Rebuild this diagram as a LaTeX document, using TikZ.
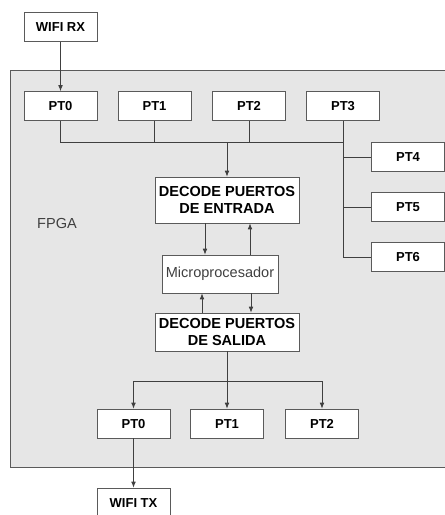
\documentclass[tikz,border=0pt]{standalone}
\usepackage{fontspec}
\setmainfont{Liberation Sans}
\usetikzlibrary{arrows.meta}
\definecolor{bgc}{HTML}{E6E6E6}
\definecolor{edgec}{HTML}{5A5A5A}
\definecolor{linec}{HTML}{404040}
\definecolor{txtc}{HTML}{404040}
\tikzset{
  ptbox/.style={draw=edgec, fill=white, inner sep=0pt, minimum width=54.75pt, minimum height=21.75pt, text height=7pt, text depth=0pt, font=\fontsize{9.75}{11.7}\selectfont\bfseries},
  decbox/.style={draw=edgec, fill=white, inner sep=0pt, minimum width=108pt, align=center, font=\fontsize{10.9}{12.5}\selectfont\bfseries},
  conn/.style={draw=linec, line width=0.6pt},
  arr/.style={conn, -{Latex[length=4.5pt,width=3.5pt]}}
}
\begin{document}
\begin{tikzpicture}[x=0.75pt,y=-0.75pt]
\useasboundingbox (0,0) rectangle (445,515);
\clip (0,0) rectangle (445,515);
% FPGA region
\path[fill=bgc, draw=edgec, line width=0.7pt] (10,70) rectangle (470,467);
\node[text=txtc, font=\fontsize{10.9}{13}\selectfont] (fpga) at (57,223) {FPGA};
% boxes
\node[ptbox] (rx) at (60.5,27) {WIFI RX};
\node[ptbox] (t0) at (60.5,106) {PT0};
\node[ptbox] (t1) at (154.5,106) {PT1};
\node[ptbox] (t2) at (249,106) {PT2};
\node[ptbox] (t3) at (343,106) {PT3};
\node[ptbox] (t4) at (408,157) {PT4};
\node[ptbox] (t5) at (408,207) {PT5};
\node[ptbox] (t6) at (408,257) {PT6};
\node[decbox, minimum height=34.5pt] (ent) at (227,200) {DECODE PUERTOS\\DE ENTRADA};
\node[draw=edgec, fill=white, inner sep=0pt, minimum width=87pt, minimum height=28.5pt, text=txtc, font=\fontsize{10.9}{13}\selectfont] (mic) at (220,274) {Microprocesador};
\node[decbox, minimum height=28.5pt] (sal) at (227,332) {DECODE PUERTOS\\DE SALIDA};
\node[ptbox] (b0) at (133.5,423.5) {PT0};
\node[ptbox] (b1) at (227,423.5) {PT1};
\node[ptbox] (b2) at (322,423.5) {PT2};
\node[ptbox] (tx) at (133.5,502.5) {WIFI TX};
% connectors
\coordinate (bus) at (227,142);
\coordinate (br) at (227,381);
\draw[arr] (rx) -- (t0);
\draw[conn] (t0.south) |- (t3.south |- bus);
\draw[conn] (t1.south) -- (t1.south |- bus);
\draw[conn] (t2.south) -- (t2.south |- bus);
\draw[conn] (t3.south) -- (t3.south |- t6.west) -- (t6.west);
\draw[conn] (t3.south |- t4.west) -- (t4.west);
\draw[conn] (t3.south |- t5.west) -- (t5.west);
\draw[arr] (bus) -- (ent.north);
\draw[arr] ([xshift=-16.5pt]ent.south) -- ([xshift=-16.5pt]ent.south |- mic.north);
\draw[arr] ([xshift=17.25pt]ent.south |- mic.north) -- ([xshift=17.25pt]ent.south);
\draw[arr] ([xshift=-18.75pt]sal.north) -- ([xshift=-18.75pt]sal.north |- mic.south);
\draw[arr] ([xshift=18pt]sal.north |- mic.south) -- ([xshift=18pt]sal.north);
\draw[conn] (sal.south) -- (br);
\draw[arr] (br) -- (b1.north);
\draw[arr] (br) -| (b0.north);
\draw[arr] (br) -| (b2.north);
\draw[arr] (b0) -- (tx);
\end{tikzpicture}
\end{document}
